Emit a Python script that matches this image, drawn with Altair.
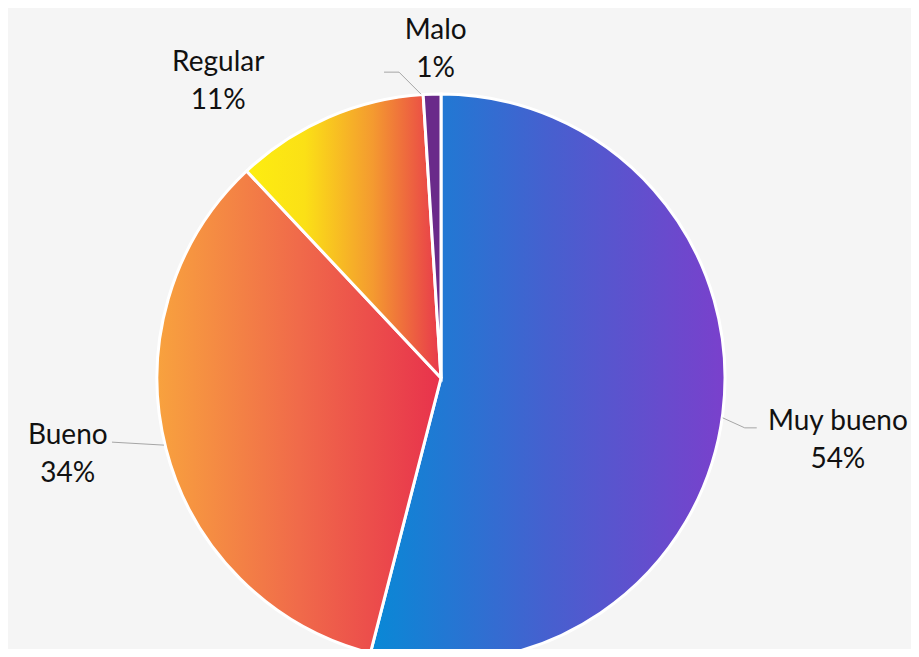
import math
import altair as alt
import pandas as pd

categories = ["Muy bueno", "Bueno", "Regular", "Malo"]
values = [54, 34, 11, 1]
pct_labels = ["54%", "34%", "11%", "1%"]

# styles / layout
CX, CY, R = 433, 370, 284
FONT = "Lato"
gradients = {
    "Muy bueno": [(0, "#0889d6"), (0.5, "#4660cf"), (1, "#7a40cc")],
    "Bueno": [(0, "#f8a23e"), (0.5, "#f06a4a"), (1, "#e8324c")],
    "Regular": [(0, "#fdee10"), (0.3, "#fbe016"), (0.65, "#f49a30"), (1, "#e8384c")],
    "Malo": [(0, "#6a2a8a"), (1, "#6a2a8a")],
}
# label placement (radius from centre plus a pixel shift) and leader segments
label_radius = {"Muy bueno": 400, "Bueno": 375, "Regular": 372, "Malo": 330}
label_shift = {"Muy bueno": (0, 13), "Bueno": (-10, -16), "Regular": (-75, 45), "Malo": (5, 2)}
leaders = {
    "Muy bueno": [(-2, 4), (20, 14), (32, 14)],
    "Bueno": [(0, -4), (-52, -7)],
    "Malo": [(-11, 2), (-33, -20), (-48, -20)],
}

df = pd.DataFrame({"cat": categories, "value": values, "pct": pct_labels,
                   "order": list(range(len(categories)))})

total = sum(values)
cum = 0
lab_rows = []
lead_rows = []
for c, v, p in zip(categories, values, pct_labels):
    a0 = cum / total * 2 * math.pi
    cum += v
    a1 = cum / total * 2 * math.pi
    am = (a0 + a1) / 2
    lr = label_radius[c]
    lx = CX + lr * math.sin(am) + label_shift[c][0]
    ly = CY - lr * math.cos(am) + label_shift[c][1]
    lab_rows.append({"cat": c, "txt": [c, p], "lx": lx, "ly": ly})
    if c in leaders:
        ex = CX + (R + 2) * math.sin(am)
        ey = CY - (R + 2) * math.cos(am)
        pts = leaders[c]
        for i in range(len(pts) - 1):
            lead_rows.append({"x1": ex + pts[i][0], "y1": ey + pts[i][1],
                              "x2": ex + pts[i + 1][0], "y2": ey + pts[i + 1][1]})

base = alt.Chart(df).transform_joinaggregate(
    total="sum(value)"
).transform_window(
    cum="sum(value)", sort=[alt.SortField("order")], frame=[None, 0]
).transform_calculate(
    a0="(datum.cum - datum.value) / datum.total * 2 * PI",
    a1="datum.cum / datum.total * 2 * PI",
)

layers = []
for c in categories:
    grad = {
        "gradient": "linear", "x1": 0, "y1": 0, "x2": 1, "y2": 0,
        "stops": [{"offset": o, "color": col} for o, col in gradients[c]],
    }
    layers.append(
        base.transform_filter(alt.datum.cat == c)
        .mark_arc(fill=grad, stroke="white", strokeWidth=3, radius=R)
        .encode(
            theta=alt.Theta("a0:Q", scale=None),
            theta2="a1:Q",
            x=alt.value(CX),
            y=alt.value(CY),
        )
    )

leader_chart = alt.Chart(pd.DataFrame(lead_rows)).mark_rule(
    color="#a6a6a6", strokeWidth=1
).encode(
    x=alt.X("x1:Q", scale=None), y=alt.Y("y1:Q", scale=None),
    x2="x2:Q", y2="y2:Q",
)

text_chart = alt.Chart(pd.DataFrame(lab_rows)).mark_text(
    font=FONT, fontSize=28, color="#111111", align="center",
    baseline="middle", lineHeight=38, dy=-19,
).encode(
    x=alt.X("lx:Q", scale=None), y=alt.Y("ly:Q", scale=None), text="txt",
)

chart = alt.layer(*layers, leader_chart, text_chart).properties(
    width=903, height=641, padding=0, autosize=alt.AutoSizeParams(type="none"),
    background="#f5f5f5",
).configure_view(stroke=None)

chart.save("out.html", embed_options={"renderer": "svg", "actions": False})
